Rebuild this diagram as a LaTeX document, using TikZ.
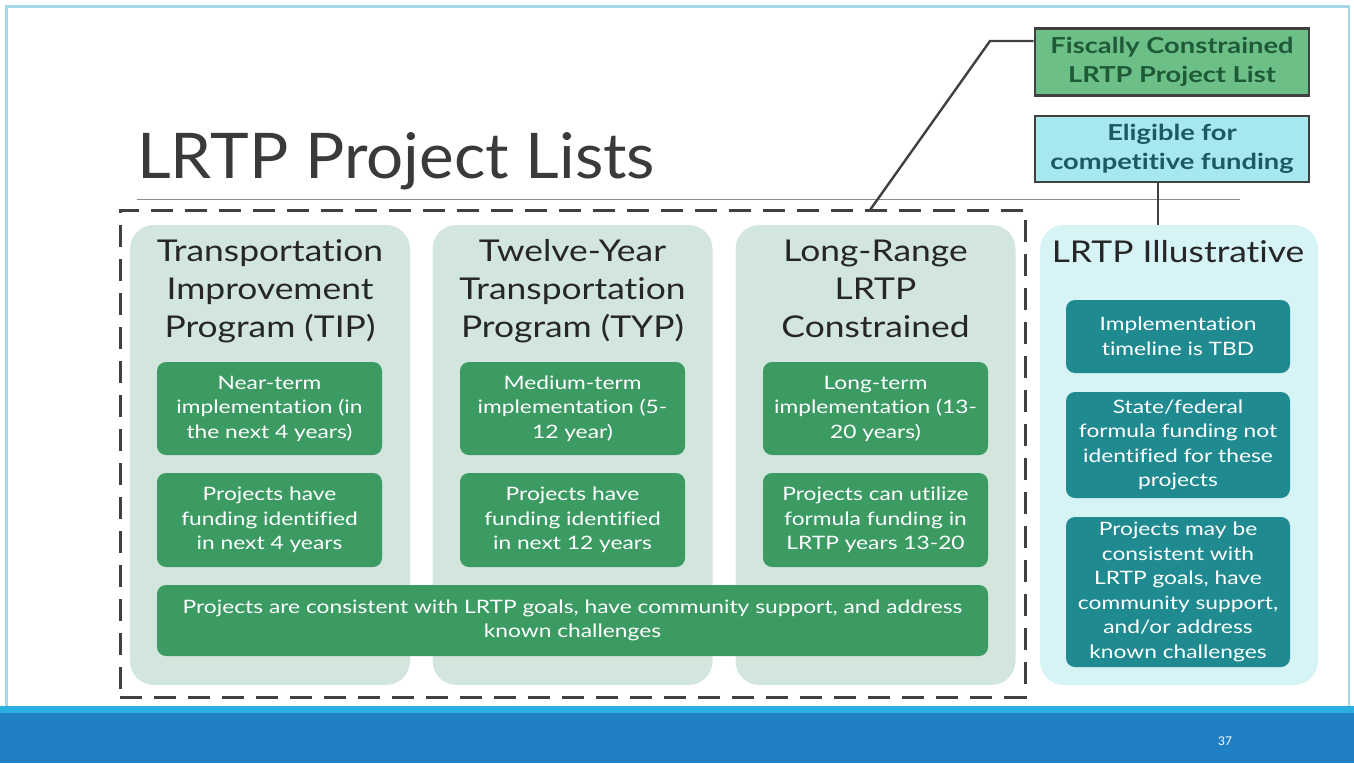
\documentclass[tikz,border=0pt]{standalone}
\usepackage{fontspec}
\setmainfont{Lato}[Ligatures=NoCommon]
\definecolor{colbg}{HTML}{D2E6DE}
\definecolor{gbox}{HTML}{3C9A63}
\definecolor{tbox}{HTML}{1F8B91}
\definecolor{cyanbg}{HTML}{D6F3F6}
\definecolor{fiscfill}{HTML}{6CBF86}
\definecolor{eligfill}{HTML}{A6E8EE}
\definecolor{darkline}{HTML}{404040}
\definecolor{titlegray}{HTML}{3A3A3A}
\definecolor{barblue}{HTML}{2180C4}
\definecolor{stripe}{HTML}{2AAFE0}
\definecolor{slideedge}{HTML}{A6D9E5}
\definecolor{fisctext}{HTML}{1E5A38}
\definecolor{eligtext}{HTML}{1A5A60}
\begin{document}
\begin{tikzpicture}[x=1pt,y=-1pt,
  colbox/.style={fill=colbg, rounded corners=24pt, inner sep=0pt},
  cyanbox/.style={fill=cyanbg, rounded corners=24pt, inner sep=0pt},
  coltitle/.style={text=black!85, align=center, font=\fontsize{30}{38}\selectfont\addfontfeature{FakeStretch=1.18}},
  greenbox/.style={fill=gbox, rounded corners=9pt, text=white, align=center, inner sep=0pt, font=\fontsize{18.5}{24.5}\selectfont\addfontfeature{FakeStretch=1.23}},
  tealbox/.style={fill=tbox, rounded corners=9pt, text=white, align=center, inner sep=0pt, font=\fontsize{18.5}{24.5}\selectfont\addfontfeature{FakeStretch=1.23}},
  topbox/.style={draw=darkline, line width=2.6pt, inner sep=0pt, align=center, font=\fontsize{22}{29}\selectfont\bfseries\addfontfeature{FakeStretch=1.24}},
  conn/.style={draw=darkline, line width=2.4pt},
]
\useasboundingbox (0,0) rectangle (1354,763);
\fill[white] (0,0) rectangle (1354,763);
% slide edge
\draw[slideedge, line width=2.2pt] (6.5,708) -- (6.5,6.5) -- (1349,6.5) -- (1349,708);
% bottom bar
\fill[barblue] (0,708) rectangle (1354,763);
\fill[stripe] (0,706) rectangle (1354,713);
\node[text=white, font=\fontsize{12}{14}\selectfont] (pnum) at (1225,741) {37};

% title
\node[anchor=base west, text=titlegray, inner sep=0pt, font=\fontsize{63}{70}\selectfont\addfontfeature{FakeStretch=1.04}] (title) at (137,178) {LRTP Project Lists};
\draw[black!45, line width=0.9pt] (137,199) -- (1240,199);

% dashed frame
\node[draw=darkline, line width=3pt, dash pattern=on 22pt off 12pt, minimum width=905pt, minimum height=487pt, inner sep=0pt] (frame) at (572.5,453.5) {};

% columns
\node[colbox, minimum width=280pt, minimum height=460pt] (c1) at (270,455) {};
\node[colbox, minimum width=280pt, minimum height=460pt] (c2) at (572.5,455) {};
\node[colbox, minimum width=280pt, minimum height=460pt] (c3) at (875.5,455) {};
\node[cyanbox, minimum width=278pt, minimum height=460pt] (c4) at (1179,455) {};

% column titles
\node[coltitle] (t1) at (270,291) {Transportation\\Improvement\\Program (TIP)};
\node[coltitle] (t2) at (572.5,291) {Twelve-Year\\Transportation\\Program (TYP)};
\node[coltitle] (t3) at (875.5,289) {Long-Range\\LRTP\\Constrained};
\node[coltitle] (t4) at (1178,252) {LRTP Illustrative};

% green boxes
\node[greenbox, minimum width=225pt, minimum height=93pt] (g11) at (269.5,408.5) {Near-term\\implementation (in\\the next 4 years)};
\node[greenbox, minimum width=225pt, minimum height=94pt] (g12) at (269.5,520) {Projects have\\funding identified\\in next 4 years};
\node[greenbox, minimum width=225pt, minimum height=93pt] (g21) at (572.5,408.5) {Medium-term\\implementation (5-\\12 year)};
\node[greenbox, minimum width=225pt, minimum height=94pt] (g22) at (572.5,520) {Projects have\\funding identified\\in next 12 years};
\node[greenbox, minimum width=225pt, minimum height=93pt] (g31) at (875.5,408.5) {Long-term\\implementation (13-\\20 years)};
\node[greenbox, minimum width=225pt, minimum height=94pt] (g32) at (875.5,520) {Projects can utilize\\formula funding in\\LRTP years 13-20};
\node[greenbox, minimum width=831pt, minimum height=71pt] (gw) at (572.5,620.5) {Projects are consistent with LRTP goals, have community support, and address\\known challenges};

% teal boxes
\node[tealbox, minimum width=224pt, minimum height=73pt] (tb1) at (1178,336.5) {Implementation\\timeline is TBD};
\node[tealbox, minimum width=224pt, minimum height=106pt] (tb2) at (1178,445) {State/federal\\formula funding not\\identified for these\\projects};
\node[tealbox, minimum width=224pt, minimum height=150pt] (tb3) at (1178,592) {Projects may be\\consistent with\\LRTP goals, have\\community support,\\and/or address\\known challenges};

% top boxes
\node[topbox, fill=fiscfill, text=fisctext, minimum width=274pt, minimum height=67pt] (fisc) at (1172,62) {Fiscally Constrained\\LRTP Project List};
\node[topbox, fill=eligfill, text=eligtext, minimum width=274pt, minimum height=66pt] (elig) at (1172,149) {Eligible for\\competitive funding};

% connectors
\coordinate (k1) at (990,41);
\coordinate (ftop) at (870,210);
\draw[conn] (fisc.west |- k1) -- (k1) -- (ftop);
\draw[conn] (elig.south -| 1158,0) -- (c4.north -| 1158,0);
\end{tikzpicture}
\end{document}
